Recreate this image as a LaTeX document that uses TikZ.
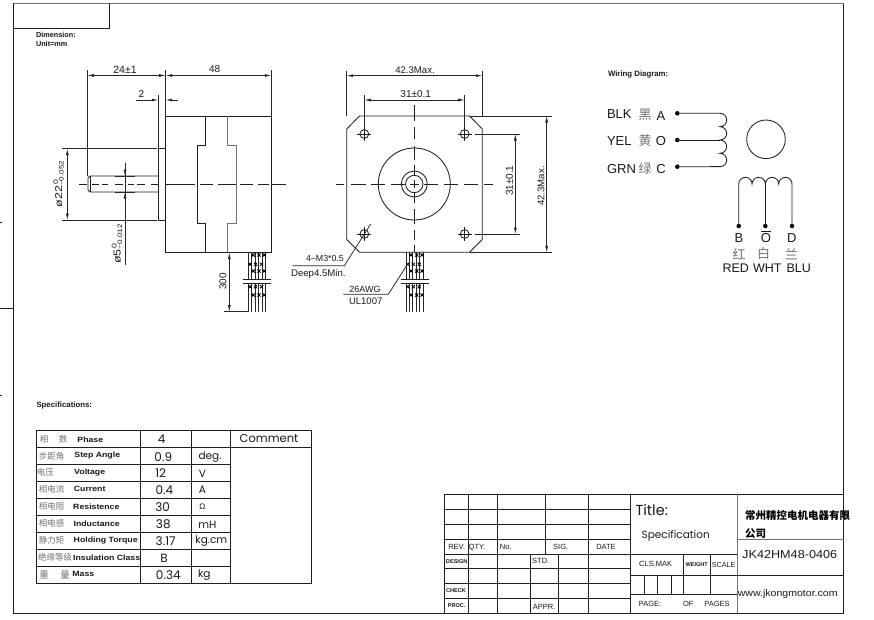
\documentclass[tikz,border=0pt]{standalone}
\usepackage{fontspec}
\setmainfont{Liberation Sans}
\newfontfamily\pop{Poppins}
\newfontfamily\cjk{Noto Sans CJK SC}
\newfontfamily\stretched[FakeStretch=1.25]{Liberation Sans}
\newfontfamily\smbold[FakeStretch=1.15,BoldFont={Liberation Sans Bold},UprightFont={Liberation Sans Bold}]{Liberation Sans}
\newfontfamily\web[FakeStretch=1.1]{Liberation Sans}
\usetikzlibrary{arrows.meta}
\newcommand{\fs}[1]{\fontsize{#1}{#1}\selectfont}
\tikzset{
 x=1pt,y=-1pt,
 ln/.style={line width=0.85pt,black!88},
 thin line/.style={line width=0.8pt,black!85},
 gr/.style={line width=1pt,black!55},
 dimln/.style={line width=0.75pt,black!85},
 da/.style={dimln,{Latex[length=6.5pt,width=3pt]}-{Latex[length=6.5pt,width=3pt]}},
 dr/.style={dimln,-{Latex[length=6.5pt,width=3pt]}},
 t/.style={inner sep=0pt,outer sep=0pt,text=black!90,font=\fs{10}},
 lab/.style={t,font=\fs{13}},
 smb/.style={t,font=\fs{7.6}\smbold},
 heading/.style={t,font=\fs{7.3}\bfseries},
 cn/.style={t,text=black!55,font=\fs{8.5}\cjk},
 val/.style={t,font=\fs{12}\pop},
 unitv/.style={t,font=\fs{10.5}\pop},
 tb/.style={t,font=\fs{7.5}},
 tiny bold/.style={t,font=\fs{5.6}\bfseries},
 wiredot/.style={circle,fill=black,inner sep=0pt,minimum size=4.5pt},
}
\newcommand{\wires}[1]{%
 \foreach \i in {0,...,5}{
  \draw[thin line] ({#1+\i*3.4},252.3) -- ({#1+\i*3.4},279);
  \draw[thin line] ({#1+\i*3.4},284) -- ({#1+\i*3.4},312);
 }
 \foreach \dx/\dy in {5/255,10.7/255,16/255,1.7/264.3,7.3/264.3,13.3/264.3,5/271,10.7/271,16/271,1.7/286.7,7.3/286.7,13.3/286.7,5/295,10.7/295,16/295}{
  \draw[line width=0.8pt] ({#1+\dx-1.6},\dy-1.6) -- ({#1+\dx+1.6},\dy+1.6) ({#1+\dx-1.6},\dy+1.6) -- ({#1+\dx+1.6},\dy-1.6);
 }
 \draw[ln] ({#1-5},279.3) -- ({#1+23},279.3) ({#1-5},283.5) -- ({#1+23},283.5);
}
\newcommand{\tol}[2]{\rlap{\raisebox{3.8pt}{\fs{7}\,#1}}\raisebox{-1.6pt}{\fs{6.5}#2}}
\begin{document}
\begin{tikzpicture}
\useasboundingbox (0,0) rectangle (874,619);
\fill[white] (0,0) rectangle (874,619);
% frame
\draw[ln] (13.5,3) -- (13.5,613) -- (843.7,613) -- (843.7,3);
\draw[gr] (13.5,3) -- (843.7,3);
\draw[ln] (13.5,28) -- (109.5,28) -- (109.5,3);
\draw[ln] (0,308) -- (13.5,308);
\draw[ln] (0,222) -- (2,222) (0,395) -- (2,395);
\node[heading,anchor=west] (dimt) at (36,34.5) {Dimension:};
\node[heading,anchor=west] (unit) at (36,44) {Unit=mm};
% side view
\draw[ln] (165.5,116.3) rectangle (271.3,252.3);
\draw[ln] (205.3,116.3) -- (205.3,145.3) -- (197.3,145.3) -- (197.3,223.3) -- (205.3,223.3) -- (205.3,252.3);
\draw[gr,line width=.9pt] (227.7,116.3) -- (227.7,145.3) -- (236.7,145.3) -- (236.7,223.3) -- (227.7,223.3) -- (227.7,252.3);
\draw[ln] (158.3,148.7) rectangle (165.5,220);
\draw[ln] (158.3,176) -- (90,176) -- (88,178) -- (88,190) -- (90,192) -- (158.3,192);
\draw[ln] (90,176) -- (90,192);
\foreach \a/\b in {79/87,92/99,102/108,115/123,128/134,137/145,151/158.3,165.7/195,200/213,218/236,240/253,258/269,272/285.7}
 \draw[ln] (\a,184) -- (\b,184);
% dims side
\draw[dimln] (87.3,70) -- (87.3,176);
\draw[dimln] (165.7,70) -- (165.7,116);
\draw[dimln] (271.3,70) -- (271.3,116);
\draw[da] (87.3,75.5) -- (165.7,75.5);
\draw[da] (165.7,75.5) -- (271.3,75.5);
\node[t,font=\fs{10.5}] (d24) at (125,69.5) {24±1};
\node[t] (d48) at (214.7,69.5) {48};
\draw[dimln] (158.3,95) -- (158.3,148.7);
\draw[dr] (136,100) -- (158.3,100);
\draw[dr] (177.7,100) -- (165.7,100);
\node[t] (d2) at (141.5,94.5) {2};
\draw[dimln] (62,148.7) -- (157,148.7) (62,220) -- (157,220);
\draw[da] (67.3,148.7) -- (67.3,220);
\node[t,rotate=90,font=\fs{10}\stretched] (d22) at (58.5,184) {ø22\tol{0}{−0.052}};
\draw[dimln] (125,163) -- (125,264.5);
\draw[dimln] (115,176) -- (135,176) (115,192) -- (135,192);
\draw[dr] (125,165) -- (125,176);
\draw[dr] (125,203) -- (125,192);
\node[t,rotate=90,font=\fs{10}\stretched] (d5) at (117,244) {ø5\tol{0}{−0.012}};
\draw[dimln] (224,311.7) -- (248,311.7);
\draw[da] (229.3,252.5) -- (229.3,311.7);
\node[t,rotate=90] (d300) at (223,281.5) {300};
\wires{248.3}
% front view
\draw[ln] (359.5,116) -- (469.5,116) -- (482.3,129) -- (482.3,239.5) -- (469.5,252.3) -- (359.5,252.3) -- (346.7,239.5) -- (346.7,129) -- cycle;
\coordinate (c0) at (414.3,184);
\draw[ln] (c0) circle[radius=36pt] (c0) circle[radius=13pt] (c0) circle[radius=8.7pt];
\foreach \hx/\hy in {364.3/134,464.7/134,364.3/234,464.7/234}{
 \draw[ln] (\hx,\hy) circle[radius=4.4pt];
 \draw[ln] (\hx-7,\hy) -- (\hx+7,\hy) (\hx,\hy-7) -- (\hx,\hy+7);
}
\foreach \a/\b in {335.7/344,351/366,371/385,391/405,410/418.5,424/438,444/458,464/478,484/493.3}
 \draw[ln] (\a,184) -- (\b,184);
\foreach \a/\b in {105/121,127/139,146/160,165/175,180/188,193/203,209/224,230/240,245/252}
 \draw[ln] (414.3,\a) -- (414.3,\b);
\draw[dimln] (346.7,70.5) -- (346.7,116) (482.3,70.5) -- (482.3,116);
\draw[da] (346.7,75.7) -- (482.3,75.7);
\node[t,font=\fs{9.6}] (f423) at (415,70) {42.3Max.};
\draw[dimln] (364.3,95) -- (364.3,127) (464.7,95) -- (464.7,127);
\draw[da] (364.3,100) -- (464.7,100);
\node[t] (f31) at (415.7,94) {31±0.1};
\draw[dimln] (470,116) -- (551.7,116) (470,252.3) -- (551.7,252.3);
\draw[da] (546.7,116) -- (546.7,252.3);
\node[t,rotate=90,font=\fs{9.6}] (f423r) at (541,186) {42.3Max.};
\draw[dimln] (475,134) -- (520,134) (475,234) -- (520,234);
\draw[da] (515.3,134) -- (515.3,234);
\node[t,rotate=90] (f31r) at (509.3,180.7) {31±0.1};
\draw[dimln] (370.7,224) -- (344.3,265.7) -- (292.3,265.7);
\node[t,font=\fs{8.8}] (m3) at (325,258) {4–M3*0.5};
\node[t,font=\fs{9.6}] (deep) at (318.3,274) {Deep4.5Min.};
\wires{406}
\draw[dimln] (408.3,263) -- (388.3,294.3) -- (343.3,294.3);
\node[t,font=\fs{9}] (awg) at (365,289) {26AWG};
\node[t,font=\fs{9.5}] (ul) at (365.7,301) {UL1007};
% wiring
\node[heading,font=\fs{7.8}\bfseries,anchor=west] (wd) at (608,74) {Wiring Diagram:};
\node[lab,anchor=west] (blk) at (607,114.5) {BLK};
\node[lab,anchor=west] (yel) at (607,141) {YEL};
\node[lab,anchor=west] (grn) at (607,169.5) {GRN};
\node[cn,font=\fs{13}\cjk] (hei) at (645,114.5) {黑};
\node[cn,font=\fs{13}\cjk] (huang) at (645,141) {黄};
\node[cn,font=\fs{13}\cjk] (lv) at (645,168.5) {绿};
\node[lab] (la) at (661,116) {A};
\node[lab] (lo) at (661,141.5) {O};
\node[lab] (lc) at (661,169.5) {C};
\node[wiredot] (wa) at (677.3,113.3) {};
\node[wiredot] (wo) at (677.3,140) {};
\node[wiredot] (wc) at (677.3,166.7) {};
\draw[ln] (wa.center) -- (720,113.3) arc[start angle=90,end angle=-90,radius=6.67pt] arc[start angle=90,end angle=-90,radius=6.67pt] arc[start angle=90,end angle=-90,radius=6.67pt] arc[start angle=90,end angle=-90,radius=6.67pt] -- (wc.center);
\draw[ln] (wo.center) -- (720,140);
\draw[ln] (766,139.3) circle[radius=19.3pt];
\node[wiredot] (wb) at (738.7,226) {};
\node[wiredot] (wm) at (765.3,226) {};
\node[wiredot] (wd2) at (792,226) {};
\draw[ln] (wb.center) -- (738.7,184) arc[start angle=180,end angle=0,radius=6.67pt] arc[start angle=180,end angle=0,radius=6.67pt] arc[start angle=180,end angle=0,radius=6.67pt] arc[start angle=180,end angle=0,radius=6.67pt] -- (wd2.center);
\draw[ln] (wm.center) -- (765.3,184);
\node[lab,anchor=base] (lb) at (739,242) {B};
\node[lab,anchor=base] (lo2) at (766,242) {$\overline{\mbox{O}}$};
\node[lab,anchor=base] (ld) at (791.7,242) {D};
\node[cn,font=\fs{13}\cjk] (hong) at (739,254) {红};
\node[cn,font=\fs{13}\cjk] (bai) at (763.7,254) {白};
\node[cn,font=\fs{13}\cjk] (lan) at (791.3,254) {兰};
\node[lab,font=\fs{12.5},anchor=base] (red) at (735.7,272) {RED};
\node[lab,font=\fs{12.5},anchor=base] (wht) at (767.3,272) {WHT};
\node[lab,font=\fs{12.5},anchor=base] (blu) at (798.7,272) {BLU};
% spec table
\node[heading,font=\fs{7.8}\bfseries,anchor=west] (spec) at (36.5,405.3) {Specifications:};
\draw[ln] (36,430.7) rectangle (311.7,583.3);
\draw[ln] (36,447.3) -- (311.7,447.3);
\foreach \y in {464.3,481.3,498.3,515.3,532.3,549.3,566.3} \draw[ln] (36,\y) -- (230.7,\y);
\foreach \x in {140,191.3,230.7} \draw[ln] (\x,430.7) -- (\x,583.3);
\node[cn] (c1a) at (44,439.5) {相};
\node[cn] (c1b) at (63,439.5) {数};
\node[smb] (e1) at (90.3,440) {Phase};
\node[val] (v1) at (161.7,439.5) {4};
\node[val,font=\fs{11.5}\pop] (comment) at (269,438) {Comment};
\node[cn] (c2) at (51.7,456) {步距角};
\node[smb] (e2) at (97.3,456) {Step Angle};
\node[val] (v2) at (163.3,456.7) {0.9};
\node[unitv] (u2) at (210,457) {deg.};
\node[cn] (c3) at (45.3,472.7) {电压};
\node[smb] (e3) at (89.7,472.7) {Voltage};
\node[val] (v3) at (160.7,473.5) {12};
\node[unitv] (u3) at (202.3,473.5) {V};
\node[cn] (c4) at (51.7,489.3) {相电流};
\node[smb] (e4) at (89.7,489.3) {Current};
\node[val] (v4) at (164.3,490) {0.4};
\node[unitv] (u4) at (202.3,490) {A};
\node[cn] (c5) at (51.7,506.3) {相电阻};
\node[smb] (e5) at (96.3,506.3) {Resistence};
\node[val] (v5) at (162.7,507) {30};
\node[t,font=\fs{8}] (u5) at (202.3,507) {Ω};
\node[cn] (c6) at (51.7,523.3) {相电感};
\node[smb] (e6) at (96.7,523.3) {Inductance};
\node[val] (v6) at (163.3,524) {38};
\node[unitv] (u6) at (207.3,524.5) {mH};
\node[cn] (c7) at (51.7,540.3) {静力矩};
\node[smb] (e7) at (105.7,540.3) {Holding Torque};
\node[val] (v7) at (165.7,541) {3.17};
\node[unitv] (u7) at (211.3,541.5) {kg.cm};
\node[cn] (c8) at (55,557.3) {绝缘等级};
\node[smb] (e8) at (106.7,557.3) {Insulation Class};
\node[val] (v8) at (164,558) {B};
\node[cn,font=\fs{9.5}\cjk] (c9a) at (44,574.5) {重};
\node[cn,font=\fs{9.5}\cjk] (c9b) at (65,574.5) {量};
\node[smb] (e9) at (83.3,574.3) {Mass};
\node[val] (v9) at (168.3,575) {0.34};
\node[unitv] (u9) at (204.3,575.5) {kg};
% title block
\draw[ln] (444.7,494.3) rectangle (843.7,613.3);
\foreach \y in {509,524,539.3,554,568.3,583.3,598.3} \draw[ln] (444.7,\y) -- (630.7,\y);
\draw[ln] (468,494.3) -- (468,613.3);
\draw[ln] (497.7,494.3) -- (497.7,613.3);
\draw[ln] (545,494.3) -- (545,554);
\draw[ln] (588.3,494.3) -- (588.3,613.3);
\draw[ln] (530.7,554) -- (530.7,613.3);
\draw[ln] (558.3,554) -- (558.3,613.3);
\draw[ln] (630.7,494.3) -- (630.7,613.3);
\draw[gr] (737.3,494.3) -- (737.3,613.3);
\draw[ln] (630.7,554) -- (737.3,554);
\draw[ln] (630.7,575) -- (843.7,575);
\draw[ln] (630.7,594.3) -- (737.3,594.3);
\draw[gr] (737.3,539.3) -- (843.7,539.3);
\draw[ln] (683.7,554) -- (683.7,594.3) (710.3,554) -- (710.3,594.3);
\draw[ln] (644,575) -- (644,594.3) (657.3,575) -- (657.3,594.3) (671.3,575) -- (671.3,594.3);
\node[tb] (rev) at (456.7,547.3) {REV.};
\node[tb] (qty) at (477,547.3) {QTY.};
\node[tb] (no) at (505.7,547.3) {No.};
\node[tb] (sig) at (560.7,547.3) {SIG.};
\node[tb] (date) at (606,547.3) {DATE};
\node[tiny bold] (design) at (456.7,561.3) {DESIGN};
\node[tb] (std) at (540.7,561.3) {STD.};
\node[tiny bold] (check) at (456,590.3) {CHECK};
\node[tiny bold] (proc) at (456.7,605.7) {PROC.};
\node[tb] (appr) at (544,606.7) {APPR.};
\node[t,anchor=west,font=\fs{14.5}\pop] (title) at (635.5,510) {Title:};
\node[t,font=\fs{10.5}\pop] (specn) at (675.7,535.7) {Specification};
\node[tb] (cls) at (655.7,564.3) {CLS.MAK};
\node[tiny bold] (weight) at (696.7,565) {WEIGHT};
\node[tb,font=\fs{7.2}] (scale) at (723.7,565) {SCALE};
\node[tb] (page) at (650,604) {PAGE:};
\node[tb] (of) at (688.3,604) {OF};
\node[tb] (pages) at (717,604) {PAGES};
\node[t,anchor=west,text=black,font=\fs{10.5}\cjk\bfseries] (co1) at (745,515) {常州精控电机电器有限};
\node[t,anchor=west,text=black,font=\fs{10.5}\cjk\bfseries] (co2) at (745,533.3) {公司};
\node[t,font=\fs{11.5}\web] (model) at (789.7,554.7) {JK42HM48-0406};
\node[t,font=\fs{9.6}\web] (webn) at (787.7,594) {www.jkongmotor.com};
\end{tikzpicture}
\end{document}
